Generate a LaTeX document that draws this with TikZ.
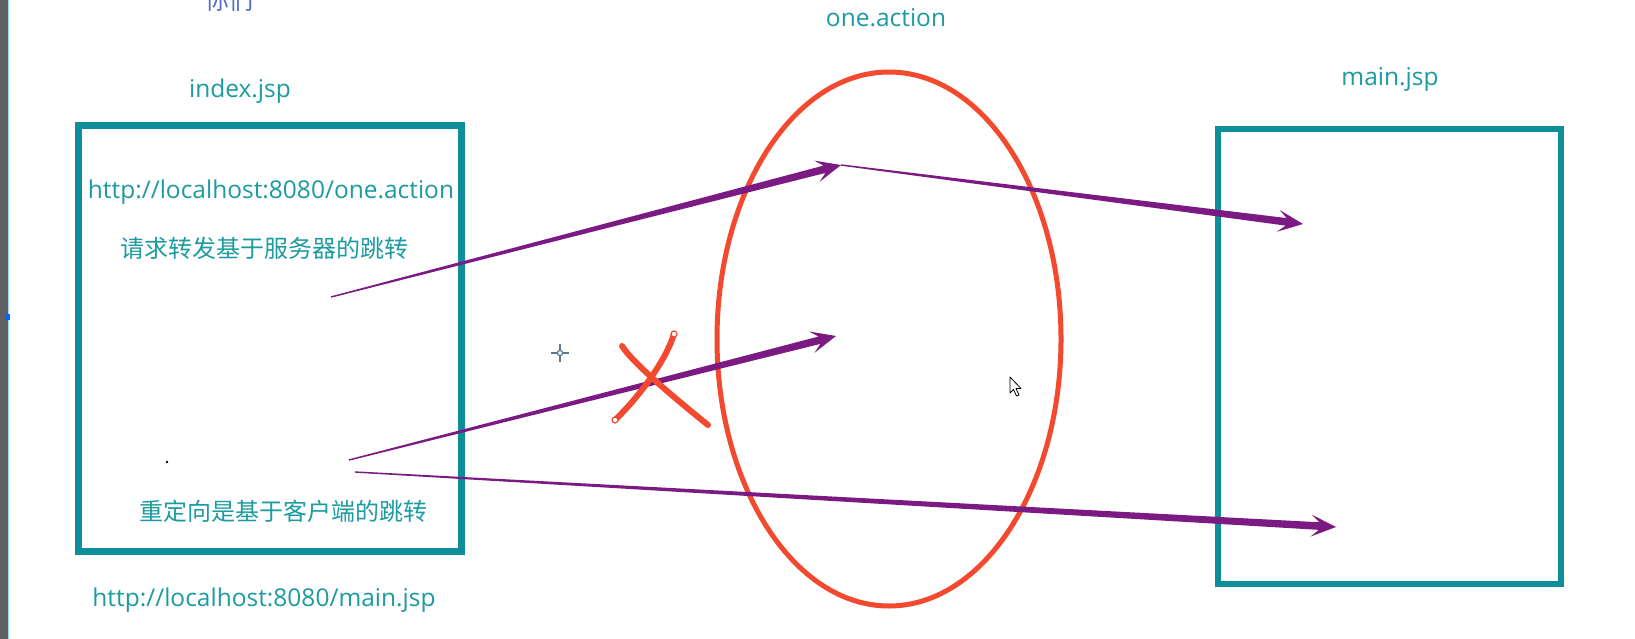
\documentclass[tikz,border=0pt]{standalone}
\usepackage{fontspec}
\setmainfont{Open Sans}
\newfontfamily\cjk{Noto Sans CJK SC}
\usetikzlibrary{calc,shapes.geometric}
\definecolor{tealtext}{HTML}{1C9BA0}
\definecolor{tealbox}{HTML}{0E8E98}
\definecolor{ellred}{HTML}{F2492F}
\definecolor{arrowc}{HTML}{7B1A82}
\definecolor{nimenblue}{HTML}{4F6BD0}
\definecolor{edgegray}{HTML}{606060}
\definecolor{crossc}{HTML}{5A7890}
\tikzset{
  latin/.style={font=\fontsize{24.5}{28}\selectfont, text=tealtext, inner sep=0pt, anchor=base},
  cjktext/.style={font=\cjk\fontsize{24}{28}\selectfont, text=tealtext, inner sep=0pt},
  pagebox/.style={draw=tealbox, rectangle, inner sep=0pt, outer sep=0pt},
  actionell/.style={draw=ellred, ellipse, line width=5pt, inner sep=0pt},
  xstroke/.style={draw=ellred, line width=6pt, line cap=round},
  xend/.style={draw=ellred, line width=1.2pt, fill=white},
}
\newcommand\taperarrow[2]{%
  \coordinate (tH) at ($(#2)!17pt!(#1)$);
  \coordinate (tK) at ($(#2)!25pt!(#1)$);
  \fill[arrowc] ($(#1)!0.7pt!90:(#2)$) -- ($(tH)!3.8pt!90:(#2)$) -- ($(tK)!11pt!90:(#2)$) -- (#2)
     -- ($(tK)!11pt!-90:(#2)$) -- ($(tH)!3.8pt!-90:(#2)$) -- ($(#1)!0.7pt!-90:(#2)$) -- cycle;}
\begin{document}
\begin{tikzpicture}[x=1pt,y=-1pt]
\useasboundingbox (0,0) rectangle (1635,639);
\fill[white] (0,0) rectangle (1635,639);
% left window edge
\fill[edgegray] (0,0) rectangle (7.5,639);
\draw[cyan!40, line width=1pt] (8,0) -- (8,639);
\fill[blue!60!cyan] (6,314) rectangle (10,320);

% boxes and ellipse
\node[pagebox, line width=7pt, minimum width=383pt, minimum height=425pt] (index) at (269.5,338.5) {};
\node[pagebox, line width=6pt, minimum width=343pt, minimum height=455pt] (main) at (1389.5,356.5) {};
\node[actionell, minimum width=344pt, minimum height=534pt] (action) at (889,339) {};

% texts
\node[font=\cjk\fontsize{24}{28}\selectfont, text=nimenblue, inner sep=0pt, anchor=base] (nimen) at (229,10) {你们};
\node[latin] (tindex) at (240,98) {index.jsp};
\node[latin] (tone) at (886,27) {one.action};
\node[latin] (tmain) at (1390,86) {main.jsp};
\node[latin] (url1) at (271,199) {http://localhost:8080/one.action};
\node[cjktext] (fwd) at (264,248) {请求转发基于服务器的跳转};
\node[cjktext] (redir) at (283,511) {重定向是基于客户端的跳转};
\node[latin] (url2) at (264,606) {http://localhost:8080/main.jsp};

% arrow end points
\coordinate (a1s) at (331,297);
\coordinate (a1e) at (841,165);
\coordinate (a2e) at (1303,224);
\coordinate (a3s) at (349,460);
\coordinate (a3e) at (836,336);
\coordinate (a4s) at (355,472);
\coordinate (a4e) at (1336,527);
\taperarrow{a1s}{a1e}
\taperarrow{a1e}{a2e}
\taperarrow{a3s}{a3e}
\taperarrow{a4s}{a4e}

% red X
\draw[xstroke] (622,346) .. controls (632,362) and (672,396) .. (708,425);
\draw[xstroke] (674,334) .. controls (666,360) and (640,396) .. (615,420);
\draw[xend] (674,334) circle (3pt);
\draw[xend] (615,420) circle (3pt);

% crosshair
\draw[crossc, line width=1.3pt] (551,353) -- (569,353) (560,344) -- (560,362);
\draw[crossc, line width=1.2pt, fill=white] (560,353) circle (2.6pt);

% small dot
\fill[black] (167,462) circle (1.3pt);

% mouse cursor
\draw[black, line width=0.8pt, fill=white, line join=round]
  (1010,377) -- (1010,393) -- (1013.5,389.5) -- (1016.5,396) -- (1019,395) -- (1016,388.5) -- (1021,388.5) -- cycle;
\end{tikzpicture}
\end{document}
